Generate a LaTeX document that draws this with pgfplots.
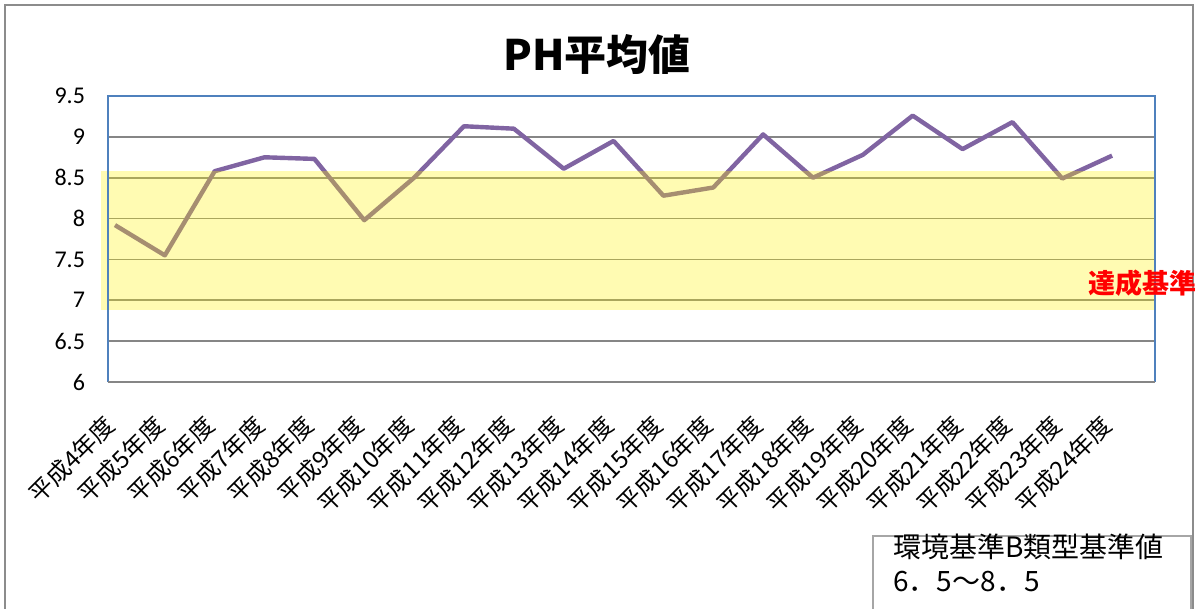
\documentclass[border=0pt]{standalone}
\usepackage{pgfplots}
\pgfplotsset{compat=1.18}
\usepackage{fontspec}
\setmainfont{Carlito}
\newfontfamily\jp{Noto Sans CJK JP}
\definecolor{linepurple}{HTML}{8064A2}
\definecolor{gridgray}{HTML}{868686}
\definecolor{axblue}{HTML}{4F81BD}
\definecolor{framegray}{HTML}{8C8C8C}
\definecolor{boxgray}{HTML}{A6A6A6}
\begin{document}
\begin{tikzpicture}
\useasboundingbox (0,0) rectangle (599.5pt,-304.5pt);
\draw[framegray, line width=1pt] (2.5pt,-330pt) -- (2.5pt,-2.5pt) -- (596.5pt,-2.5pt) -- (596.5pt,-330pt);
\begin{axis}[
  at={(54pt,-191pt)}, anchor=south west,
  scale only axis, width=523.5pt, height=143pt,
  xmin=-0.14, xmax=20.86, ymin=6, ymax=9.5,
  ytick={6,6.5,7,7.5,8,8.5,9,9.5},
  xtick={0,...,20},
  xticklabels={平成4年度,平成5年度,平成6年度,平成7年度,平成8年度,平成9年度,平成10年度,平成11年度,平成12年度,平成13年度,平成14年度,平成15年度,平成16年度,平成17年度,平成18年度,平成19年度,平成20年度,平成21年度,平成22年度,平成23年度,平成24年度},
  major tick length=0,
  ymajorgrids, grid style={gridgray, line width=0.9pt},
  axis line style={draw=none},
  clip=false,
  /pgf/number format/assume math mode=true,
  yticklabel style={font=\fontsize{12}{14}\selectfont, xshift=-8pt},
  xticklabel style={font=\jp\fontsize{12}{13}\selectfont, yshift=-17pt, rotate=45, anchor=east},
]
\addplot[linepurple, line width=2.2pt, line join=round] coordinates {
(0,7.92) (1,7.55) (2,8.58) (3,8.75) (4,8.73) (5,7.98) (6,8.50) (7,9.13) (8,9.10) (9,8.61) (10,8.95)
(11,8.28) (12,8.38) (13,9.03) (14,8.50) (15,8.78) (16,9.26) (17,8.85) (18,9.18) (19,8.49) (20,8.77)};
\fill[yellow, fill opacity=0.3] (axis cs:-0.28,6.88) rectangle (axis cs:20.84,8.58);
\draw[axblue, line width=0.8pt] (rel axis cs:0,0) -- (rel axis cs:0,1) -- (rel axis cs:1,1) -- (rel axis cs:1,0);
\draw[gridgray, line width=0.9pt] (rel axis cs:0,0) -- (rel axis cs:1,0);
\end{axis}
\node[font=\jp\bfseries\fontsize{21}{24}\selectfont, inner sep=0] at (298.5pt,-27.5pt) {PH平均値};
\node[anchor=west, text=red, font=\jp\bfseries\fontsize{13.5}{15}\selectfont, inner sep=0] at (544pt,-141.5pt) {達成基準};
\draw[boxgray, line width=0.6pt, fill=white] (436.5pt,-330pt) -- (436.5pt,-268pt) -- (595.5pt,-268pt) -- (595.5pt,-330pt);
\node[anchor=west, inner sep=0, font=\jp\fontsize{14}{16}\selectfont] at (446.5pt,-273.5pt) {環境基準B類型基準値};
\node[anchor=west, inner sep=0, font=\jp\fontsize{14}{16}\selectfont] at (446.5pt,-291pt) {6．5～8．5};
\end{tikzpicture}
\end{document}
